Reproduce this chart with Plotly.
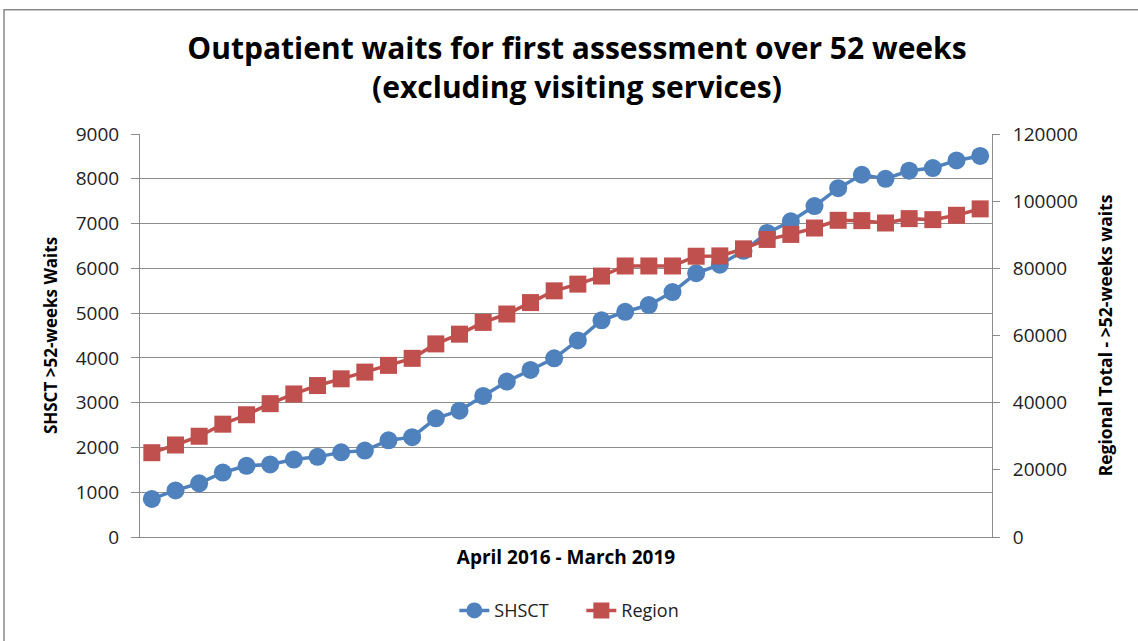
import plotly.graph_objects as go

months = ["Apr 2016","May 2016","Jun 2016","Jul 2016","Aug 2016","Sep 2016","Oct 2016","Nov 2016","Dec 2016",
          "Jan 2017","Feb 2017","Mar 2017","Apr 2017","May 2017","Jun 2017","Jul 2017","Aug 2017","Sep 2017",
          "Oct 2017","Nov 2017","Dec 2017","Jan 2018","Feb 2018","Mar 2018","Apr 2018","May 2018","Jun 2018",
          "Jul 2018","Aug 2018","Sep 2018","Oct 2018","Nov 2018","Dec 2018","Jan 2019","Feb 2019","Mar 2019"]

shsct = [850, 1040, 1200, 1440, 1590, 1620, 1730, 1790, 1890, 1930, 2160, 2230,
         2650, 2820, 3150, 3470, 3730, 3990, 4390, 4840, 5030, 5180, 5470, 5890,
         6080, 6390, 6790, 7050, 7390, 7790, 8090, 8000, 8180, 8240, 8410, 8510]

region = [25100, 27400, 30000, 33600, 36400, 39700, 42600, 45100, 47100, 49100, 51100, 53200,
          57500, 60400, 63900, 66400, 69800, 73300, 75300, 77700, 80700, 80700, 80700, 83600,
          83700, 85800, 88600, 90100, 92000, 94300, 94200, 93500, 94800, 94500, 95800, 97700]

left_ticks = list(range(0, 9001, 1000))
right_ticks = list(range(0, 120001, 20000))
right_labels = [str(v) for v in right_ticks]

FONT = "Open Sans"
BLUE = "#4F81BD"
RED = "#C0504D"
GRID = "#8c8c8c"
TXT = "#222222"

fig = go.Figure()
fig.add_trace(go.Scatter(x=months, y=shsct, name="SHSCT", mode="lines+markers",
                         line=dict(color=BLUE, width=3.5),
                         marker=dict(symbol="circle", size=18, color=BLUE)))
fig.add_trace(go.Scatter(x=months, y=region, name="Region", mode="lines+markers", yaxis="y2",
                         line=dict(color=RED, width=3.5),
                         marker=dict(symbol="square", size=17, color=RED)))

fig.update_layout(
    width=1138, height=641,
    margin=dict(l=140, r=146, t=134, b=102),
    paper_bgcolor="white", plot_bgcolor="white",
    font=dict(family=FONT, color=TXT),
    title=dict(text="<b>Outpatient waits for first assessment over 52 weeks<br>(excluding visiting services)</b>",
               x=0.507, xanchor="center", xref="container", y=1 - 59 / 641, yanchor="middle",
               font=dict(size=30, family=FONT, color="black")),
    xaxis=dict(type="category", range=[-0.5, 35.5], showticklabels=False, ticks="",
               showgrid=False, showline=True, linecolor=GRID, linewidth=1,
               title=dict(text="<b>April 2016 - March 2019</b>", font=dict(size=19, family=FONT, color="black"),
                          standoff=13)),
    yaxis=dict(range=[0, 9000], tickvals=left_ticks, showgrid=True, gridcolor=GRID, gridwidth=1,
               showline=True, linecolor=GRID, linewidth=1, ticks="outside", ticklen=8, tickcolor=GRID,
               tickfont=dict(size=19, family=FONT, color=TXT), zeroline=False, ticklabelstandoff=8,
               title=dict(text="<b>SHSCT >52-weeks Waits</b>", font=dict(size=17, family=FONT, color="black"),
                          standoff=13)),
    yaxis2=dict(range=[0, 120000], tickvals=right_ticks, ticktext=right_labels, overlaying="y", side="right",
                showgrid=False, showline=True, linecolor=GRID, linewidth=1, ticks="outside", ticklen=7,
                tickcolor=GRID, tickfont=dict(size=19, family=FONT, color=TXT), zeroline=False,
                ticklabelstandoff=9,
                title=dict(text="<b>Regional Total - >52-weeks waits</b>",
                           font=dict(size=17.5, family=FONT, color="black"), standoff=22)),
    legend=dict(orientation="h", x=0.518, xanchor="center", y=-0.183, yanchor="middle",
                font=dict(size=18, family=FONT, color=TXT), entrywidth=82, entrywidthmode="pixels"),
    showlegend=True,
)

fig.add_shape(type="rect", xref="paper", yref="paper", x0=-0.1596, x1=1.18, y0=-0.27, y1=1.3086,
              line=dict(color="#8a8a8a", width=1.5), fillcolor="rgba(0,0,0,0)", layer="below")

fig.write_html("out.html", config={"displayModeBar": False},
               post_script="document.body.style.margin='0';")
